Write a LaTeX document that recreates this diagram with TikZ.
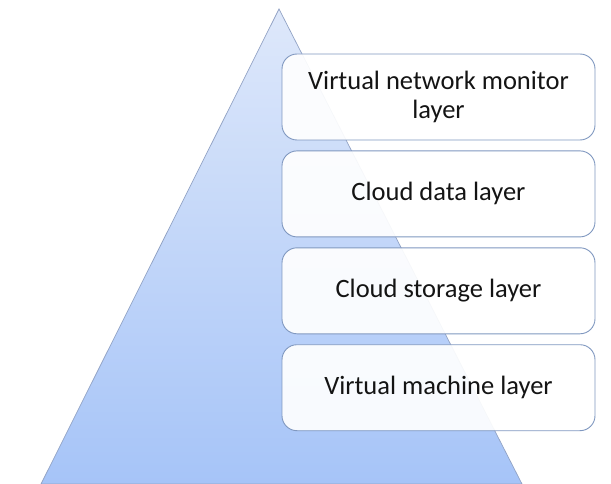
\documentclass[tikz,border=0pt]{standalone}
\usepackage{fontspec}
\setmainfont{Carlito}
\usepackage{tikz}
\usetikzlibrary{positioning}

\definecolor{pyrtop}{RGB}{222,232,250}
\definecolor{pyrbot}{RGB}{166,196,248}
\definecolor{pyredge}{RGB}{145,162,196}
\definecolor{layeredge}{RGB}{128,152,192}
\definecolor{layertext}{RGB}{20,20,20}

\tikzset{
    layerbox/.style={draw=layeredge, line width=0.9pt, fill=white, fill opacity=0.92,
        text opacity=1, rounded corners=15pt, minimum width=313pt, minimum height=86pt,
        align=center, text=layertext, font=\fontsize{26.5}{29}\selectfont},
}

\begin{document}
\begin{tikzpicture}[x=1pt, y=-1pt, node distance=10pt]

\useasboundingbox (0,0) rectangle (611,484);

% --- PYRAMID (background) ---
\coordinate (apex) at (279,9);
\coordinate (bl) at (41,484);
\coordinate (br) at (522,484);
\shade[top color=pyrtop, bottom color=pyrbot, draw=pyredge, line width=0.7pt]
    (apex) -- (br) -- (bl) -- cycle;

% --- LAYERS ---
\node[layerbox] (vnm) at (438.5,97) {Virtual network monitor\\layer};
\node[layerbox, below=of vnm] (cdl) {Cloud data layer};
\node[layerbox, below=of cdl] (csl) {Cloud storage layer};
\node[layerbox, below=of csl] (vml) {Virtual machine layer};

\end{tikzpicture}
\end{document}
